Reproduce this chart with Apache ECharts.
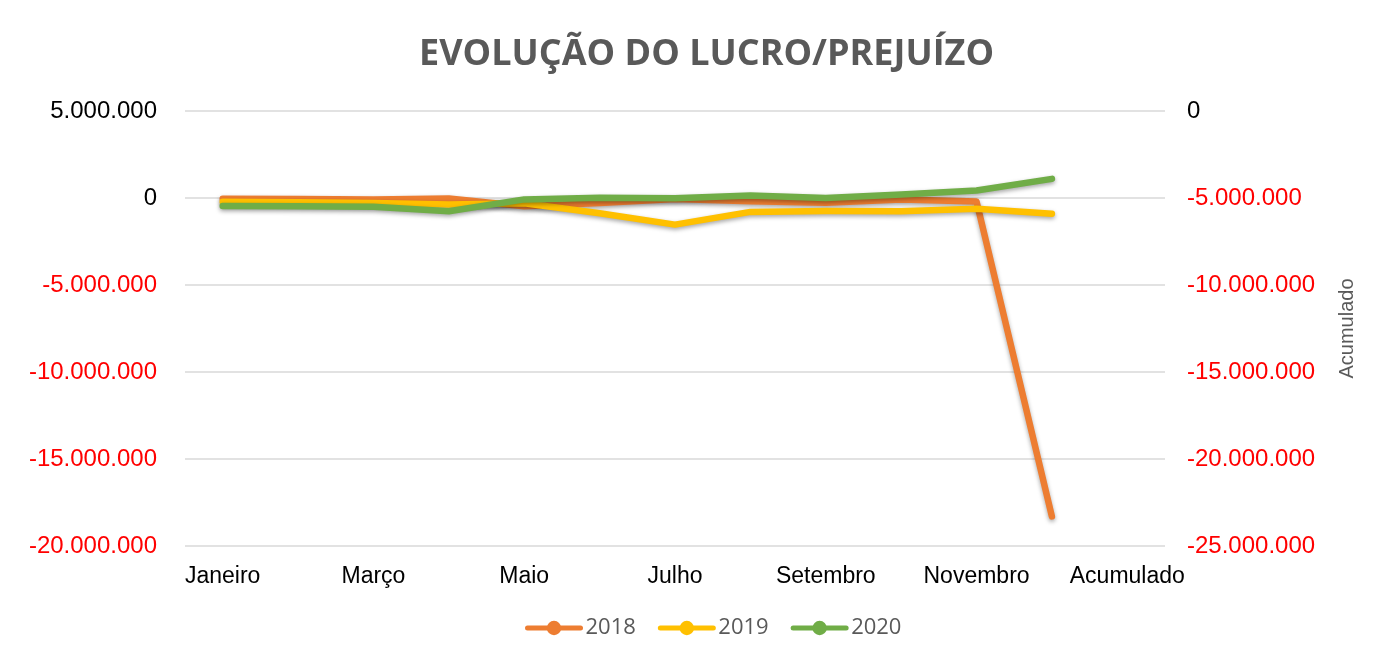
<!DOCTYPE html>
<html>
<head>
<meta charset="utf-8">
<script src="https://cdn.jsdelivr.net/npm/echarts@6/dist/echarts.min.js"></script>
<style>
  html, body { margin: 0; padding: 0; background: #fff; }
  #chart { width: 1378px; height: 662px; }
</style>
</head>
<body>
<div id="chart"></div>
<script>
// categories
const months = ['Janeiro', 'Fevereiro', 'Março', 'Abril', 'Maio', 'Junho', 'Julho',
  'Agosto', 'Setembro', 'Outubro', 'Novembro', 'Dezembro', 'Acumulado'];

// values
const lucro2018 = [-50000, -60000, -80000, -30000, -480000, -290000, -60000,
  -190000, -280000, -90000, -200000, -18300000, null];
const lucro2019 = [-210000, -240000, -290000, -380000, -300000, -880000, -1530000,
  -800000, -750000, -760000, -620000, -910000, null];
const lucro2020 = [-460000, -470000, -500000, -760000, -80000, 20000, -20000,
  140000, 0, 200000, 430000, 1100000, null];

// axis ranges
const leftMin = -20000000, leftMax = 5000000;
const rightMin = -25000000, rightMax = 0;
const step = 5000000;

const colors = ['#ED7D31', '#FFC000', '#70AD47'];

function fmt(v) {
  const neg = v < 0;
  const s = String(Math.abs(Math.round(v))).replace(/\B(?=(\d{3})+(?!\d))/g, '.');
  return (neg ? '-' : '') + s;
}

const axisText = {
  fontFamily: 'Liberation Sans',
  fontSize: 24,
  formatter: (v) => v < 0 ? '{neg|' + fmt(v) + '}' : '{pos|' + fmt(v) + '}',
  rich: {
    neg: { color: '#FF0000', fontFamily: 'Liberation Sans', fontSize: 24 },
    pos: { color: '#000000', fontFamily: 'Liberation Sans', fontSize: 24 }
  }
};

var myChart = echarts.init(document.getElementById('chart'));

function makeSeries(name, data, i) {
  return {
    name: name,
    type: 'line',
    yAxisIndex: 0,
    data: data,
    symbol: 'circle',
    symbolSize: 14,
    showSymbol: false,
    connectNulls: false,
    lineStyle: {
      width: 6.5,
      color: colors[i],
      cap: 'round',
      join: 'round',
      shadowColor: 'rgba(0,0,0,0.35)',
      shadowBlur: 4,
      shadowOffsetY: 2
    },
    itemStyle: { color: colors[i] },
    emphasis: { disabled: true }
  };
}

var option = {
  animation: false,
  title: {
    text: 'EVOLUÇÃO DO LUCRO/PREJUÍZO',
    left: 414,
    top: 32,
    textStyle: {
      fontFamily: 'Open Sans',
      fontWeight: 'bold',
      fontSize: 36,
      color: '#595959'
    }
  },
  legend: {
    bottom: 18,
    left: 520,
    itemWidth: 53,
    itemHeight: 18,
    itemGap: 22,
    lineStyle: { width: 5, shadowBlur: 0, shadowOffsetY: 0 },
    textStyle: {
      fontFamily: 'Open Sans',
      fontSize: 22,
      color: '#595959'
    },
    data: ['2018', '2019', '2020']
  },
  grid: {
    left: 185,
    right: 213,
    top: 111,
    bottom: 116
  },
  xAxis: {
    type: 'category',
    data: months,
    boundaryGap: true,
    axisLine: { show: false },
    axisTick: { show: false },
    axisLabel: {
      interval: 1,
      margin: 19,
      color: '#000',
      fontFamily: 'Liberation Sans',
      fontSize: 23
    }
  },
  yAxis: [
    {
      type: 'value',
      position: 'left',
      min: leftMin,
      max: leftMax,
      interval: step,
      axisLine: { show: false },
      axisTick: { show: false },
      axisLabel: Object.assign({ margin: 28 }, axisText),
      splitLine: { lineStyle: { color: '#D9D9D9', width: 1.5 } }
    },
    {
      type: 'value',
      position: 'right',
      min: rightMin,
      max: rightMax,
      interval: step,
      name: 'Acumulado',
      nameLocation: 'middle',
      nameGap: 172,
      nameRotate: 90,
      nameTextStyle: {
        fontFamily: 'Liberation Sans',
        fontSize: 20,
        color: '#595959'
      },
      axisLine: { show: false },
      axisTick: { show: false },
      axisLabel: Object.assign({ margin: 22 }, axisText),
      splitLine: { show: false }
    }
  ],
  series: [
    makeSeries('2018', lucro2018, 0),
    makeSeries('2019', lucro2019, 1),
    makeSeries('2020', lucro2020, 2)
  ]
};

myChart.setOption(option);
</script>
</body>
</html>
